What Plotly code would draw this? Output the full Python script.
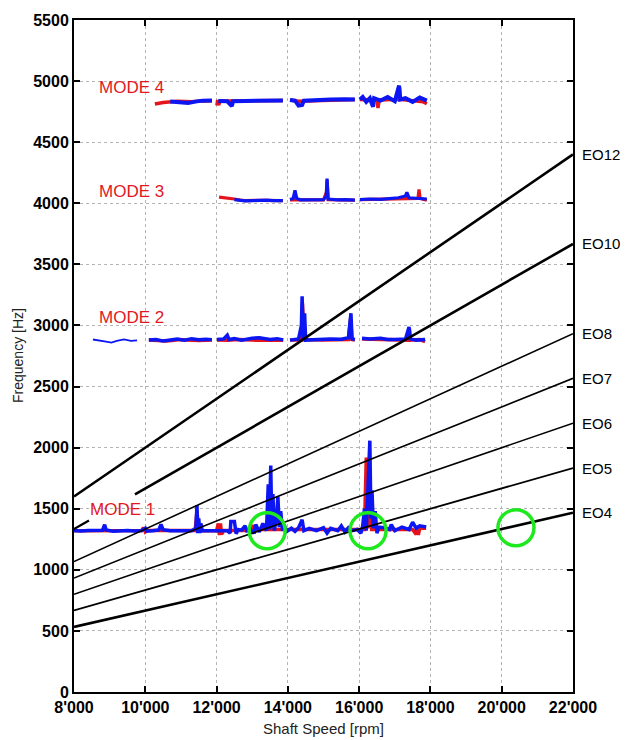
import plotly.graph_objects as go

FONT = "Arial, 'Liberation Sans', Helvetica, sans-serif"
BLUE = "#0b16f2"
RED = "#e5141c"
GREEN = "#1ee81e"

# ---------------- data ----------------
x_tickvals = [8000, 10000, 12000, 14000, 16000, 18000, 20000, 22000]
x_ticktext = ["8'000", "10'000", "12'000", "14'000", "16'000", "18'000", "20'000", "22'000"]
y_tickvals = [0, 500, 1000, 1500, 2000, 2500, 3000, 3500, 4000, 4500, 5000, 5500]
y_ticktext = ["0", "500", "1000", "1500", "2000", "2500", "3000", "3500", "4000", "4500", "5000", "5500"]

# engine-order lines (start rpm, start Hz, end rpm, end Hz)
eo_names = ["EO12", "EO10", "EO8", "EO7", "EO6", "EO5", "EO4"]
eo_start_rpm = [8000, 9710, 8000, 8000, 8000, 8000, 8000]
eo_start_hz = [1600, 1618, 1067, 933, 800, 667, 533]
eo_end_rpm = [22000, 22000, 22000, 22000, 22000, 22000, 22000]
eo_end_hz = [4400, 3667, 2933, 2567, 2200, 1833, 1467]
eo_widths = [2.6, 2.6, 1.6, 1.6, 1.6, 1.8, 2.6]
eo10_stub_rpm = [8000, 8420]
eo10_stub_hz = [1333, 1403]

# Mode 1
m1_red_rpm = [8000, 9900, 9950, 10000, 10050, 11400, 11450, 11500, 12000, 12050, 12080, 12110, 12140, 12200,
              13000, 13020, 13050, 13100, 14000, 15900, 16150, 16200, 16240, 16300, 16350, 17500, 17600, 17630,
              17660, 17700, 17880]
m1_red_hz = [1320, 1322, 1345, 1310, 1322, 1322, 1480, 1320, 1320, 1380, 1285, 1380, 1290, 1322,
             1322, 1370, 1300, 1330, 1330, 1330, 1330, 1919, 1340, 1600, 1330, 1330, 1290, 1360,
             1285, 1340, 1340]
m1_blue_rpm = [8000, 8200, 8400, 8600, 8800, 8860, 8900, 9100, 9300, 9500, 9700, 9900, 10000, 10040, 10200,
               10380, 10440, 10500, 10700, 10900, 11100, 11300, 11420, 11450, 11470, 11500, 11530, 11560, 11600,
               11800, 12000, 12100, 12300, 12380, 12400, 12500, 12550, 12600, 12700, 12800, 12850, 12950, 13050,
               13100, 13200, 13300, 13400, 13450, 13480, 13520, 13550, 13580, 13620, 13680, 13720, 13760, 13800,
               13850, 13900, 13950, 14100, 14200, 14300, 14400, 14450, 14600, 14800, 15000, 15100, 15200, 15400,
               15500, 15600, 15700, 15800, 15950, 16050, 16100, 16150, 16200, 16250, 16300, 16330, 16360, 16400,
               16450, 16500, 16550, 16700, 16850, 16900, 17000, 17200, 17400, 17500, 17600, 17700, 17880]
m1_blue_hz = [1322, 1318, 1322, 1320, 1324, 1370, 1326, 1316, 1320, 1322, 1318, 1322, 1340, 1316, 1320,
              1326, 1372, 1328, 1320, 1318, 1322, 1320, 1340, 1530, 1300, 1420, 1300, 1380, 1320,
              1320, 1318, 1322, 1320, 1300, 1395, 1395, 1295, 1330, 1325, 1360, 1320, 1330, 1300,
              1370, 1310, 1380, 1320, 1700, 1330, 1854, 1340, 1620, 1320, 1430, 1600, 1350, 1480,
              1320, 1370, 1310, 1340, 1315, 1345, 1410, 1320, 1340, 1320, 1345, 1300, 1340, 1320,
              1360, 1310, 1345, 1320, 1330, 1300, 1360, 1500, 1320, 1700, 2057, 1420, 1650, 1340,
              1480, 1300, 1350, 1345, 1330, 1370, 1320, 1350, 1330, 1390, 1340, 1360, 1350]

# Mode 2
m2_thin_rpm = [8530, 8700, 8900, 9050, 9200, 9400, 9600, 9770]
m2_thin_hz = [2885, 2880, 2868, 2860, 2874, 2886, 2874, 2878]
m2_red_rpm = [10100, 10600, 11000, 11500, 11870, None, 12010, 12300, 12600, 13000, 13870, None,
              14060, 14380, 14410, 14460, 15000, 15700, 15760, 15800, 15880, None,
              16080, 16600, 17000, 17380, 17410, 17440, 17700, 17850]
m2_red_hz = [2880, 2872, 2884, 2876, 2880, None, 2880, 2878, 2885, 2880, 2878, None,
             2880, 2880, 3180, 2885, 2880, 2885, 3060, 2885, 2880, None,
             2890, 2885, 2880, 2880, 2975, 2880, 2885, 2868]
m2_blue_rpm = [10100, 10300, 10500, 10700, 10900, 11100, 11300, 11500, 11700, 11870, None,
               12010, 12200, 12300, 12350, 12500, 12700, 13000, 13200, 13500, 13700, 13870, None,
               14060, 14300, 14380, 14400, 14430, 14470, 14500, 14800, 15000, 15200, 15500, 15700, 15770,
               15800, 15880, None,
               16080, 16300, 16600, 16800, 17000, 17300, 17400, 17430, 17600, 17850]
m2_blue_hz = [2880, 2884, 2872, 2878, 2888, 2880, 2892, 2884, 2888, 2884, None,
              2885, 2890, 2920, 2885, 2892, 2880, 2895, 2900, 2885, 2892, 2882, None,
              2880, 2890, 3000, 3239, 2890, 3100, 2880, 2885, 2892, 2890, 2888, 2900, 3100,
              2890, 2885, None,
              2895, 2890, 2896, 2886, 2885, 2890, 2988, 2890, 2880, 2885]

# Mode 3
m3_red_rpm = [12070, 12300, 12500, 12660, 12800, 13200, 13860, None,
              14060, 15000, 15080, 15100, 15130, 15880, None,
              16020, 17000, 17650, 17680, 17710, 17900]
m3_red_hz = [4050, 4045, 4035, 4026, 4022, 4024, 4022, None,
             4028, 4028, 4090, 4190, 4030, 4026, None,
             4030, 4035, 4040, 4113, 4040, 4025]
m3_blue_rpm = [12500, 12660, 12800, 13000, 13200, 13400, 13600, 13860, None,
               14060, 14150, 14200, 14250, 14350, 14700, 15000, 15080, 15100, 15130, 15400, 15600, 15880, None,
               16020, 16300, 16600, 16900, 17100, 17300, 17340, 17400, 17600, 17700, 17900]
m3_blue_hz = [4030, 4024, 4020, 4022, 4026, 4025, 4022, 4022, None,
              4030, 4040, 4105, 4040, 4028, 4026, 4030, 4060, 4202, 4035, 4028, 4030, 4026, None,
              4030, 4035, 4032, 4040, 4045, 4060, 4090, 4045, 4040, 4040, 4035]

# Mode 4
m4_red_rpm = [10270, 10500, 10900, 11300, 11600, 11870, None,
              12010, 12030, 12060, 12100, 12600, 13860, None,
              14060, 14300, 15880, None,
              16020, 16500, 16530, 16560, 17100, 17130, 17160, 17800, 17900]
m4_red_hz = [4812, 4825, 4835, 4830, 4838, 4840, None,
             4800, 4845, 4805, 4838, 4838, 4842, None,
             4845, 4835, 4850, None,
             4850, 4845, 4780, 4845, 4850, 4950, 4850, 4830, 4815]
m4_blue_rpm = [10700, 11000, 11200, 11400, 11600, 11870, None,
               12050, 12300, 12430, 12460, 12800, 13200, 13500, 13860, None,
               14060, 14200, 14300, 14400, 14450, 14800, 15200, 15600, 15880, None,
               16020, 16100, 16200, 16300, 16390, 16420, 16600, 16800, 17000, 17120, 17150, 17300, 17500,
               17700, 17900]
m4_blue_hz = [4833, 4830, 4820, 4832, 4840, 4842, None,
              4838, 4835, 4795, 4835, 4838, 4840, 4842, 4842, None,
              4845, 4840, 4800, 4805, 4840, 4848, 4850, 4852, 4850, None,
              4850, 4870, 4830, 4860, 4790, 4860, 4840, 4870, 4835, 4963, 4850, 4860, 4830,
              4865, 4840]

# crossing markers (green circles)
circle_rpm = [13420, 16250, 20400]
circle_hz = [1320, 1320, 1344]

# mode labels
mode_labels = ["MODE 4", "MODE 3", "MODE 2", "MODE 1"]
mode_label_rpm = [8640, 8640, 8640, 8400]
mode_label_hz = [4947, 4093, 3065, 1490]

# ---------------- figure ----------------
fig = go.Figure()

def line(xs, ys, color, width):
    fig.add_trace(go.Scatter(x=xs, y=ys, mode="lines", line=dict(color=color, width=width),
                             connectgaps=False, showlegend=False, hoverinfo="skip"))

# mode traces: red underneath, blue on top
line(m1_red_rpm, m1_red_hz, RED, 3.5)
line(m1_blue_rpm, m1_blue_hz, BLUE, 3.5)
line(m2_thin_rpm, m2_thin_hz, BLUE, 1.8)
line(m2_red_rpm, m2_red_hz, RED, 3.5)
line(m2_blue_rpm, m2_blue_hz, BLUE, 3.5)
line(m3_red_rpm, m3_red_hz, RED, 3.2)
line(m3_blue_rpm, m3_blue_hz, BLUE, 3.2)
line(m4_red_rpm, m4_red_hz, RED, 3.5)
line(m4_blue_rpm, m4_blue_hz, BLUE, 4)

# EO lines on top
for i in range(len(eo_names)):
    line([eo_start_rpm[i], eo_end_rpm[i]], [eo_start_hz[i], eo_end_hz[i]], "black", eo_widths[i])
line(eo10_stub_rpm, eo10_stub_hz, "black", 2.2)

# green circles
fig.add_trace(go.Scatter(x=circle_rpm, y=circle_hz, mode="markers",
                         marker=dict(symbol="circle-open", size=36, line=dict(color=GREEN, width=3.5),
                                     color=GREEN),
                         showlegend=False, hoverinfo="skip"))

annotations = []
for name, hz in zip(eo_names, eo_end_hz):
    annotations.append(dict(x=22000, y=hz, xref="x", yref="y", text=name, showarrow=False,
                            xanchor="left", yanchor="middle", xshift=7,
                            font=dict(family=FONT, size=15, color="black")))
for txt, xr, yh in zip(mode_labels, mode_label_rpm, mode_label_hz):
    annotations.append(dict(x=xr, y=yh, xref="x", yref="y", text=txt, showarrow=False,
                            xanchor="left", yanchor="middle",
                            font=dict(family=FONT, size=17, color="#e1191f")))
annotations.append(dict(x=0.5, y=0, xref="paper", yref="paper", yshift=-36, text="Shaft Speed [rpm]",
                        showarrow=False, xanchor="center", yanchor="middle",
                        font=dict(family=FONT, size=15, color="#222")))
annotations.append(dict(x=0, y=0.5, xref="paper", yref="paper", xshift=-56, text="Frequency [Hz]",
                        showarrow=False, xanchor="center", yanchor="middle", textangle=-90,
                        font=dict(family=FONT, size=14, color="#222")))

axis_common = dict(showline=True, linecolor="black", linewidth=2, mirror="ticks",
                   ticks="inside", ticklen=6, tickwidth=2, tickcolor="black",
                   showgrid=True, gridcolor="#b4b4b4", gridwidth=1, griddash="dot",
                   zeroline=False,
                   tickfont=dict(family=FONT, size=16, color="black", weight="bold"))

fig.update_layout(
    width=631, height=740,
    margin=dict(l=74, r=58, t=13, b=48),
    paper_bgcolor="white", plot_bgcolor="white",
    xaxis=dict(range=[8000, 22000], tickmode="array", tickvals=x_tickvals, ticktext=x_ticktext,
               **axis_common),
    yaxis=dict(range=[0, 5500], tickmode="array", tickvals=y_tickvals, ticktext=y_ticktext,
               **axis_common),
    annotations=annotations,
    showlegend=False,
)

fig.write_html("out.html")
